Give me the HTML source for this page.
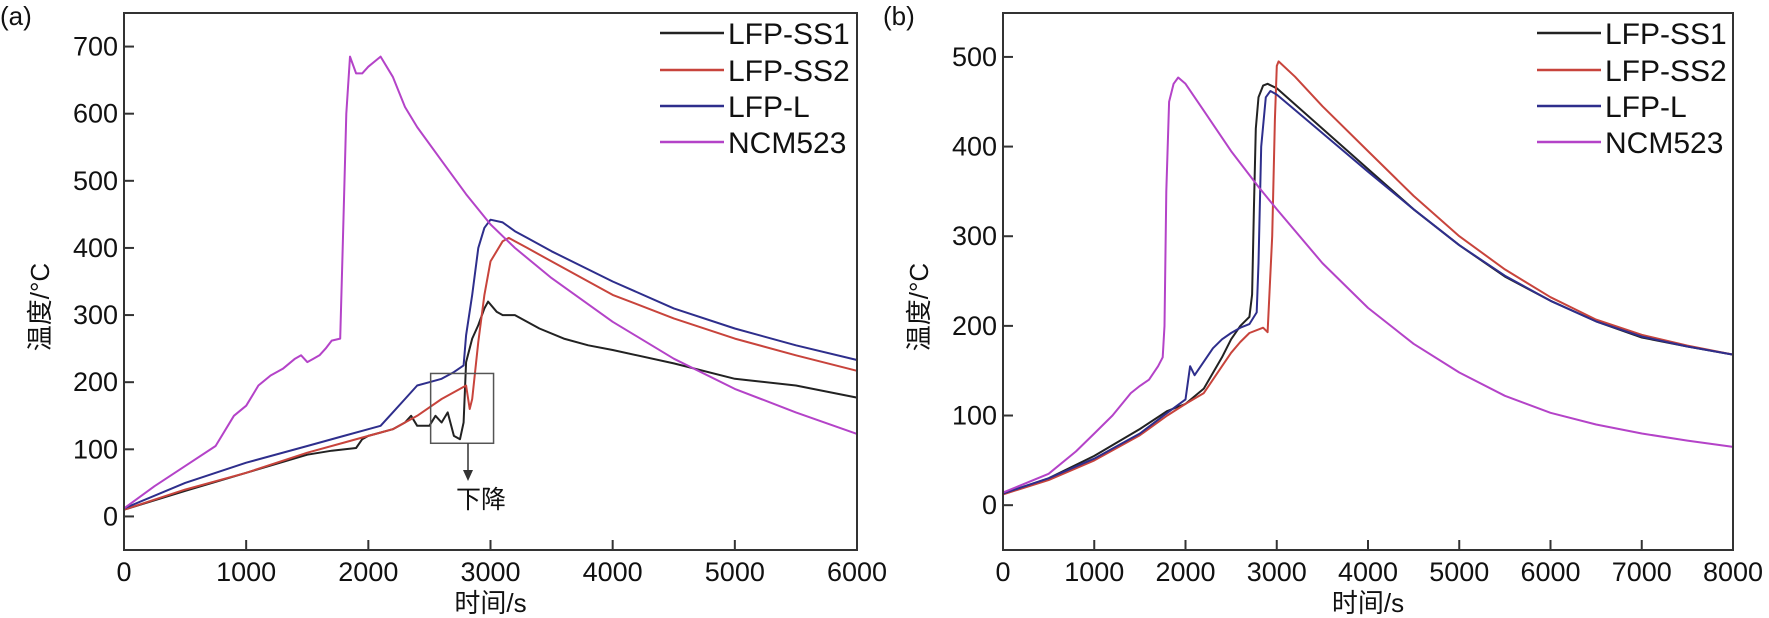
<!DOCTYPE html>
<html><head><meta charset="utf-8">
<style>
html,body{margin:0;padding:0;background:#fff;}
svg{display:block;font-family:"Liberation Sans","Noto Sans CJK SC",sans-serif;}
</style></head>
<body>
<svg id="chart" width="1769" height="618" viewBox="0 0 1769 618"></svg>
<script>
// Panel (a) data
const aSS1X=[0,500,1000,1500,1700,1900,1950,2000,2200,2300,2350,2400,2500,2550,2600,2650,2700,2750,2780,2800,2850,2900,2950,2980,3050,3100,3200,3400,3600,3800,4000,4500,5000,5500,6000];
const aSS1Y=[10,38,65,92,98,102,115,120,130,140,150,135,135,150,140,155,120,115,140,230,265,285,310,320,305,300,300,280,265,255,248,228,205,195,177];
const aSS2X=[0,500,1000,1500,1800,2000,2200,2400,2600,2750,2800,2830,2850,2900,2950,3000,3100,3150,3200,3300,3500,4000,4500,5000,5500,6000];
const aSS2Y=[10,40,65,95,110,120,130,150,175,190,195,160,175,260,330,380,410,415,410,400,380,330,295,265,240,217];
const aLX=[0,500,1000,1500,1800,2000,2100,2200,2300,2400,2500,2600,2700,2780,2800,2850,2900,2950,3000,3100,3200,3300,3500,4000,4500,5000,5500,6000];
const aLY=[12,50,80,105,120,130,135,155,175,195,200,205,215,225,270,330,400,430,442,438,425,415,395,350,310,280,255,233];
const aNX=[0,250,500,750,900,1000,1100,1200,1300,1400,1450,1500,1550,1600,1650,1700,1770,1790,1820,1850,1900,1950,2000,2100,2200,2300,2400,2600,2800,3000,3200,3500,4000,4500,5000,5500,6000];
const aNY=[12,45,75,105,150,165,195,210,220,235,240,230,235,240,250,262,265,400,600,685,660,660,670,685,655,610,580,530,480,435,400,355,290,235,190,155,123];
const aXTicks=[0,1000,2000,3000,4000,5000,6000];
const aYTicks=[0,100,200,300,400,500,600,700];
// Panel (b) data
const bSS1X=[0,500,1000,1500,1800,2000,2200,2400,2500,2600,2650,2700,2730,2750,2770,2800,2850,2900,3000,3500,4000,4500,5000,5500,6000,6500,7000,7500,8000];
const bSS1Y=[13,30,55,85,105,113,130,165,185,200,205,210,235,330,420,455,468,470,465,420,375,330,290,255,228,205,187,177,168];
const bSS2X=[0,500,1000,1500,1800,2000,2200,2400,2500,2600,2700,2850,2900,2950,2980,3000,3020,3200,3500,4000,4500,5000,5500,6000,6500,7000,7500,8000];
const bSS2Y=[12,28,50,78,100,113,125,155,170,182,192,198,193,300,430,490,495,478,445,395,345,300,263,232,207,190,178,168];
const bLX=[0,500,1000,1500,1800,2000,2050,2100,2200,2300,2400,2500,2600,2700,2780,2800,2830,2880,2930,3000,3500,4000,4500,5000,5500,6000,6500,7000,7500,8000];
const bLY=[13,30,52,80,103,118,155,145,160,175,185,192,198,202,215,270,400,455,462,458,415,372,330,290,256,228,205,188,177,168];
const bNX=[0,500,800,1000,1200,1400,1500,1600,1700,1750,1770,1790,1820,1870,1920,2000,2200,2500,2800,3000,3500,4000,4500,5000,5500,6000,6500,7000,7500,8000];
const bNY=[14,35,60,80,100,125,133,140,155,165,200,350,450,470,477,470,440,395,355,330,270,220,180,148,122,103,90,80,72,65];
const bXTicks=[0,1000,2000,3000,4000,5000,6000,7000,8000];
const bYTicks=[0,100,200,300,400,500];
const seriesNames=["LFP-SS1","LFP-SS2","LFP-L","NCM523"];
const colors=["#222222","#c8443c","#2e2e8c","#b443c8"];

const NS="http://www.w3.org/2000/svg";
const svg=document.getElementById('chart');
function mk(tag,attrs,parent){const e=document.createElementNS(NS,tag);for(const k in attrs)e.setAttribute(k,attrs[k]);(parent||svg).appendChild(e);return e;}

function panel(cfg){
  const g=mk('g',{});
  
  
  const sx=v=>cfg.x0+(v-cfg.xmin)/(cfg.xmax-cfg.xmin)*(cfg.x1-cfg.x0);
  const sy=v=>cfg.y1-(v-cfg.ymin)/(cfg.ymax-cfg.ymin)*(cfg.y1-cfg.y0);
  cfg.series.forEach((s,i)=>{
    const d=s[0].map((x,j)=>(j?'L':'M')+sx(x).toFixed(1)+','+sy(s[1][j]).toFixed(1)).join('');
    const p=mk('path',{d:d,fill:'none',stroke:colors[i],'stroke-width':2,'stroke-linejoin':'round'},g);
    
    
  });
  const fr=mk('rect',{x:cfg.x0,y:cfg.y0,width:cfg.x1-cfg.x0,height:cfg.y1-cfg.y0,fill:'none',stroke:'#333','stroke-width':2},g);
  
  
  cfg.xticks.forEach(t=>{
    const x=sx(t);
    mk('line',{x1:x,x2:x,y1:cfg.y1,y2:cfg.y1-10,stroke:'#333','stroke-width':2},g);
    const tx=mk('text',{x:x,y:cfg.y1+31,'font-size':27,'text-anchor':'middle',fill:'#111'},g);
    tx.textContent=t;
    
    
  });
  cfg.yticks.forEach(t=>{
    const y=sy(t);
    mk('line',{x1:cfg.x0,x2:cfg.x0+10,y1:y,y2:y,stroke:'#333','stroke-width':2},g);
    const tx=mk('text',{x:cfg.x0-6,y:y+9,'font-size':27,'text-anchor':'end',fill:'#111'},g);
    tx.textContent=t;
    
    
  });
  const xl=mk('text',{x:(cfg.x0+cfg.x1)/2,y:612,'font-size':26,'text-anchor':'middle',fill:'#111'},g);
  xl.textContent='时间/s';
  
  
  const yl=mk('text',{x:0,y:0,'font-size':26,'text-anchor':'middle',fill:'#111',transform:'translate('+(cfg.x0-75)+',307) rotate(-90)'},g);
  yl.textContent='温度/°C';
  
  
  const pl=mk('text',{x:cfg.lx,y:25,'font-size':26,fill:'#111'},g);
  pl.textContent=cfg.label;
  
  
  const rows=[33,70,106,142];
  seriesNames.forEach((n,i)=>{
    const lg=mk('g',{},g);
    
    
    mk('line',{x1:cfg.legx,x2:cfg.legx+64,y1:rows[i],y2:rows[i],stroke:colors[i],'stroke-width':2.5},lg);
    const t=mk('text',{x:cfg.legx+68,y:rows[i]+11,'font-size':30,fill:'#111'},lg);
    t.textContent=n;
  });
  return {g,sx,sy};
}

const A=panel({name:'panel-a',x0:124,x1:857,y0:13,y1:550,xmin:0,xmax:6000,ymin:-50,ymax:750,
  xticks:aXTicks,yticks:aYTicks,label:'(a)',lx:0,legx:660,
  series:[[aSS1X,aSS1Y],[aSS2X,aSS2Y],[aLX,aLY],[aNX,aNY]]});
const bx=mk('rect',{x:A.sx(2510),y:A.sy(213),width:A.sx(3025)-A.sx(2510),height:A.sy(109)-A.sy(213),fill:'none',stroke:'#555','stroke-width':1.5},A.g);


mk('line',{x1:468,x2:468,y1:A.sy(109),y2:474,stroke:'#333','stroke-width':1.5},A.g);
mk('path',{d:'M463,470 L468,481 L473,470 Z',fill:'#333'},A.g);
const ann=mk('text',{x:481,y:508,'font-size':25,'text-anchor':'middle',fill:'#111'},A.g);
ann.textContent='下降';



panel({name:'panel-b',x0:1003,x1:1733,y0:13,y1:550,xmin:0,xmax:8000,ymin:-50,ymax:549,
  xticks:bXTicks,yticks:bYTicks,label:'(b)',lx:883,legx:1537,
  series:[[bSS1X,bSS1Y],[bSS2X,bSS2Y],[bLX,bLY],[bNX,bNY]]});
</script>
</body></html>
